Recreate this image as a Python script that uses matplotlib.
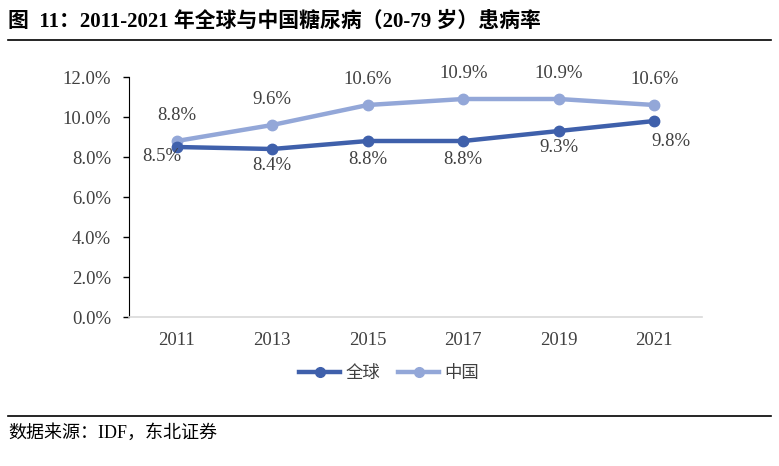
import matplotlib.pyplot as plt
from matplotlib.lines import Line2D

plt.rcParams['font.family'] = ['Liberation Serif', 'Noto Sans CJK SC']

years = ['2011', '2013', '2015', '2017', '2019', '2021']
global_rate = [8.5, 8.4, 8.8, 8.8, 9.3, 9.8]
china_rate = [8.8, 9.6, 10.6, 10.9, 10.9, 10.6]
series_names = ['全球', '中国']
yticks = [0, 2, 4, 6, 8, 10, 12]

c_global = '#3F60AB'
c_china = '#93A7D8'
txt = '#404040'

fig = plt.figure(figsize=(7.79, 4.66), dpi=100)
ax = fig.add_axes([129/779, 1-317/466, (702-129)/779, (317-77)/466])

x = list(range(len(years)))
ax.plot(x, global_rate, color=c_global, lw=3.2, marker='o', ms=7.5, zorder=3)
ax.plot(x, china_rate, color=c_china, lw=3.2, marker='o', ms=7.5, zorder=2)

# label offsets (points)
g_off = [(-11, -7), (0, -12), (0, -13), (0, -13), (0, -12), (12, -15)]
c_off = [(0, 18), (0, 18), (0, 18), (0, 18), (0, 18), (0, 18)]
for i in x:
    ax.annotate(f'{global_rate[i]:.1f}%', (i, global_rate[i]), xytext=g_off[i],
                textcoords='offset points', ha='center', va='center',
                fontsize=13.5, color=txt)
    ax.annotate(f'{china_rate[i]:.1f}%', (i, china_rate[i]), xytext=c_off[i],
                textcoords='offset points', ha='center', va='center',
                fontsize=13.5, color=txt)

ax.set_xlim(-0.5, len(years) - 0.5)
ax.set_ylim(0, 12)
ax.set_yticks(yticks)
ax.set_yticklabels([f'{v:.1f}%' for v in yticks], fontsize=13.5, color=txt)
ax.set_xticks(x)
ax.set_xticklabels(years, fontsize=13.5, color=txt)
ax.tick_params(axis='x', length=0, pad=11)
ax.tick_params(axis='y', length=4, width=1, color='black', pad=9)
ax.spines['top'].set_visible(False)
ax.spines['right'].set_visible(False)
ax.spines['left'].set_color('black')
ax.spines['bottom'].set_color('#D9D9D9')
ax.spines['bottom'].set_linewidth(1.2)

handles = [Line2D([], [], color=c_global, lw=3.2, marker='o', ms=7),
           Line2D([], [], color=c_china, lw=3.2, marker='o', ms=7)]
fig.legend(handles, series_names, loc='center', bbox_to_anchor=(389/779, 1-374/466),
           ncol=2, frameon=False, fontsize=12.5, handlelength=2.4, columnspacing=1.0,
           handletextpad=0.3, labelcolor=txt)

fig.text(8/779, 1-22/466, '图  11：2011-2021 年全球与中国糖尿病（20-79 岁）患病率',
         fontsize=15, fontweight='bold', va='center', ha='left')
fig.add_artist(Line2D([8/779, 771/779], [1-40/466, 1-40/466], color='black', lw=1.2))
fig.add_artist(Line2D([8/779, 771/779], [1-416/466, 1-416/466], color='black', lw=1.2))
fig.text(8/779, 1-433/466, '数据来源：IDF，东北证券', fontsize=13, va='center', ha='left')

fig.savefig('out.png', dpi=100)
